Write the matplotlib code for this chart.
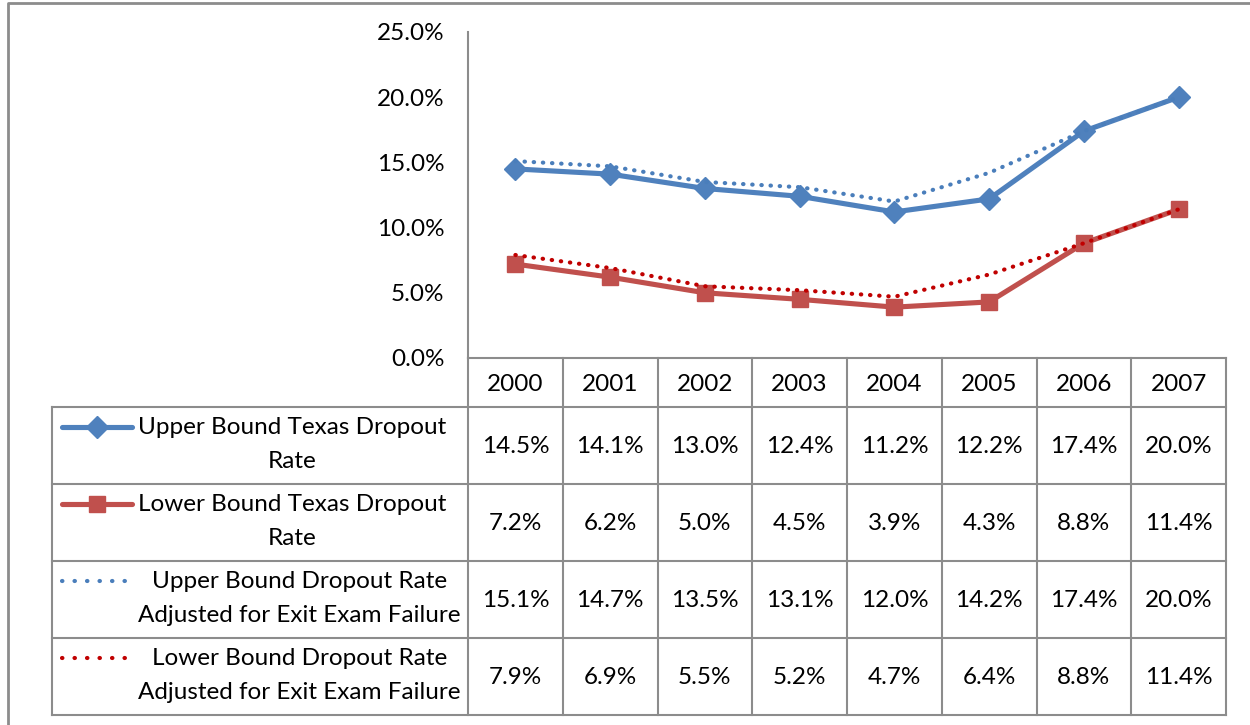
import numpy as np
import matplotlib
matplotlib.use("Agg")
import matplotlib.pyplot as plt

plt.rcParams['font.family'] = ['Lato', 'DejaVu Sans']

# data
years = ['2000', '2001', '2002', '2003', '2004', '2005', '2006', '2007']
upper = [14.5, 14.1, 13.0, 12.4, 11.2, 12.2, 17.4, 20.0]
lower = [7.2, 6.2, 5.0, 4.5, 3.9, 4.3, 8.8, 11.4]
upper_adj = [15.1, 14.7, 13.5, 13.1, 12.0, 14.2, 17.4, 20.0]
lower_adj = [7.9, 6.9, 5.5, 5.2, 4.7, 6.4, 8.8, 11.4]
labels = ['Upper Bound Texas Dropout\nRate',
          'Lower Bound Texas Dropout\nRate',
          'Upper Bound Dropout Rate\nAdjusted for Exit Exam Failure',
          'Lower Bound Dropout Rate\nAdjusted for Exit Exam Failure']
yticks = [0, 5, 10, 15, 20, 25]

BLUE = '#4F81BD'
RED = '#C0504D'
DOT_BLUE = '#4A7EBB'
DOT_RED = '#C00000'
GRID = '#8C8C8C'
FS = 17.5

W, H = 1250, 725
fig = plt.figure(figsize=(W / 100, H / 100), dpi=100)

# layout in pixels (from top-left)
px_left, px_right = 468, 1226
px_top, px_bot = 32, 358
tab_left = 52
row_edges = [358, 407, 484, 561, 638, 715]


def fbox(x0, y0, x1, y1):
    return [x0 / W, 1 - y1 / H, (x1 - x0) / W, (y1 - y0) / H]


# overlay for table and frame, in pixel coords
ov = fig.add_axes([0, 0, 1, 1])
ov.set_xlim(0, W)
ov.set_ylim(H, 0)
ov.axis('off')

# outer chart frame
ov.plot([8, 8, W + 5], [H + 5, 3, 3], color=GRID, lw=2, solid_capstyle='butt')

solid_up = dict(color=BLUE, lw=3.7, marker='D', ms=11)
solid_lo = dict(color=RED, lw=3.7, marker='s', ms=12)
dot_up = dict(color=DOT_BLUE, lw=3.0, linestyle=(0, (0.1, 2.1)), dash_capstyle='round')
dot_lo = dict(color=DOT_RED, lw=3.0, linestyle=(0, (0.1, 2.1)), dash_capstyle='round')

# plot area
ax = fig.add_axes(fbox(px_left, px_top, px_right, px_bot))
x = np.arange(len(years))
ax.plot(x, upper, zorder=3, **solid_up)
ax.plot(x, lower, zorder=3, **solid_lo)
ax.plot(x, upper_adj, zorder=4, **dot_up)
ax.plot(x, lower_adj, zorder=4, **dot_lo)
ax.set_xlim(-0.5, len(years) - 0.5)
ax.set_ylim(0, 25)
ax.set_yticks(yticks)
ax.set_yticklabels([f'{v:.1f}%' for v in yticks], fontsize=FS)
ax.tick_params(axis='y', length=0, pad=17)
ax.set_xticks([])
for s in ['top', 'right', 'bottom']:
    ax.spines[s].set_visible(False)
ax.spines['left'].set_color(GRID)
ax.spines['left'].set_linewidth(1.5)
ax.patch.set_alpha(0)

# data table
col_w = (px_right - px_left) / len(years)
col_edges = [px_left + i * col_w for i in range(len(years) + 1)]
lw_t = 1.5
ov.plot([px_left, px_right], [row_edges[0]] * 2, color=GRID, lw=lw_t)
for ry in row_edges[1:]:
    ov.plot([tab_left, px_right], [ry, ry], color=GRID, lw=lw_t)
ov.plot([tab_left, tab_left], [row_edges[1], row_edges[-1]], color=GRID, lw=lw_t)
for cx in col_edges:
    ov.plot([cx, cx], [row_edges[0], row_edges[-1]], color=GRID, lw=lw_t)

for i, yr in enumerate(years):
    cx = (col_edges[i] + col_edges[i + 1]) / 2
    ov.text(cx, (row_edges[0] + row_edges[1]) / 2 + 2, yr, ha='center',
            va='center', fontsize=FS)

series = [upper, lower, upper_adj, lower_adj]
styles = [solid_up, solid_lo,
          dict(dot_up, linestyle=(0, (0.1, 2.9))),
          dict(dot_lo, linestyle=(0, (0.1, 2.9)))]
for r, (vals, lab, st) in enumerate(zip(series, labels, styles)):
    y0, y1 = row_edges[r + 1], row_edges[r + 2]
    ymid = (y0 + y1) / 2
    # legend key
    ky = y0 + 20
    line_st = {k: v for k, v in st.items() if k not in ('marker', 'ms')}
    ov.plot([62, 132], [ky, ky], solid_capstyle='round', **line_st)
    if 'marker' in st:
        ov.plot([97], [ky], marker=st['marker'], ms=st['ms'], color=st['color'])
    ov.text(138, ymid - 1, lab, ha='left', va='center', fontsize=FS,
            multialignment='center', linespacing=1.72)
    for i, v in enumerate(vals):
        cx = (col_edges[i] + col_edges[i + 1]) / 2
        ov.text(cx, ymid + 1, f'{v:.1f}%', ha='center', va='center', fontsize=FS)

fig.savefig('out.png', dpi=100)
